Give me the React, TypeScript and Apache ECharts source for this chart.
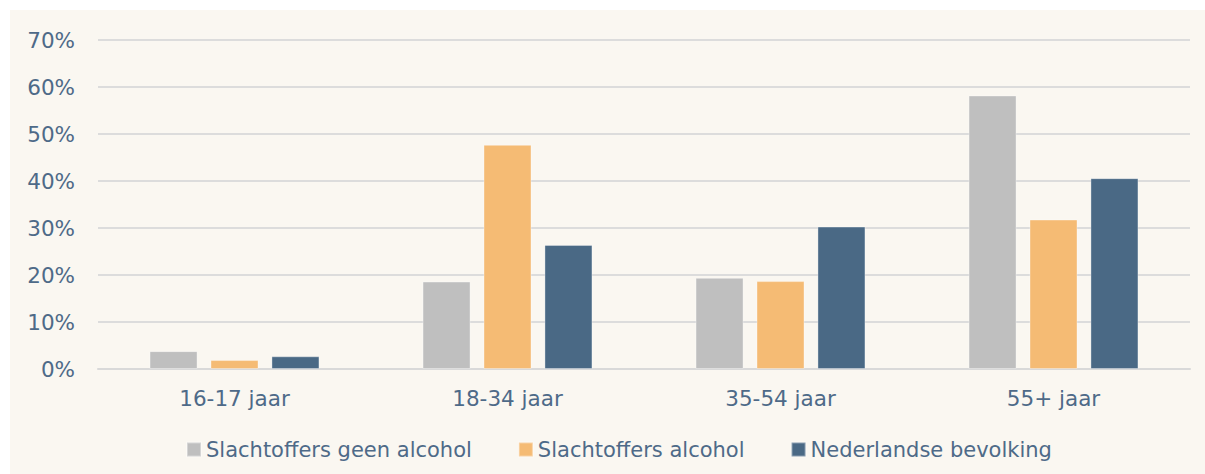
import React, { useEffect, useRef } from "react";
import * as echarts from "echarts";

const categories = ["16-17 jaar", "18-34 jaar", "35-54 jaar", "55+ jaar"];
const seriesNames = ["Slachtoffers geen alcohol", "Slachtoffers alcohol", "Nederlandse bevolking"];
const geenAlcohol = [3.8, 18.6, 19.4, 58.2];
const alcohol = [1.9, 47.7, 18.7, 31.8];
const bevolking = [2.7, 26.4, 30.3, 40.6];
const colors = ["#bfbfbf", "#f5bb74", "#4a6985"];

export default function App() {
  const ref = useRef<HTMLDivElement>(null);
  useEffect(() => {
    if (!ref.current) return;
    const chart = echarts.init(ref.current, null, { renderer: "svg" });
    const textColor = "#4e6a88";
    const font = "'DejaVu Sans', Verdana, sans-serif";
    const data = [geenAlcohol, alcohol, bevolking];
    chart.setOption({
      animation: false,
      backgroundColor: "#faf7f1",
      grid: { left: 88, right: 15, top: 30, bottom: 105, containLabel: false },
      legend: {
        bottom: 9,
        left: 171,
        itemWidth: 14,
        itemHeight: 14,
        itemGap: 46,
        icon: "rect",
        textStyle: { color: textColor, fontSize: 21, fontFamily: font },
        data: seriesNames,
      },
      xAxis: {
        type: "category",
        data: categories,
        axisLine: { lineStyle: { color: "#d9d9d9", width: 2 } },
        axisTick: { show: false },
        axisLabel: { color: textColor, fontSize: 21.5, fontFamily: font, margin: 18 },
      },
      yAxis: {
        type: "value",
        min: 0,
        max: 70,
        interval: 10,
        axisLine: { show: false },
        axisTick: { show: false },
        splitLine: { lineStyle: { color: "#dcdcdc", width: 2 } },
        axisLabel: {
          color: textColor,
          fontSize: 21.5,
          fontFamily: font,
          margin: 23,
          formatter: (v: number) => v + "%",
        },
      },
      series: seriesNames.map((name, i) => ({
        name,
        type: "bar",
        data: data[i],
        barWidth: 48,
        barGap: "27%",
        itemStyle: { color: colors[i], borderColor: "rgba(255,255,255,0.35)", borderWidth: 1 },
      })),
    });
    return () => chart.dispose();
  }, []);
  return (
    <div
      ref={ref}
      style={{ position: "absolute", left: 10, top: 10, width: 1195, height: 464 }}
    />
  );
}
